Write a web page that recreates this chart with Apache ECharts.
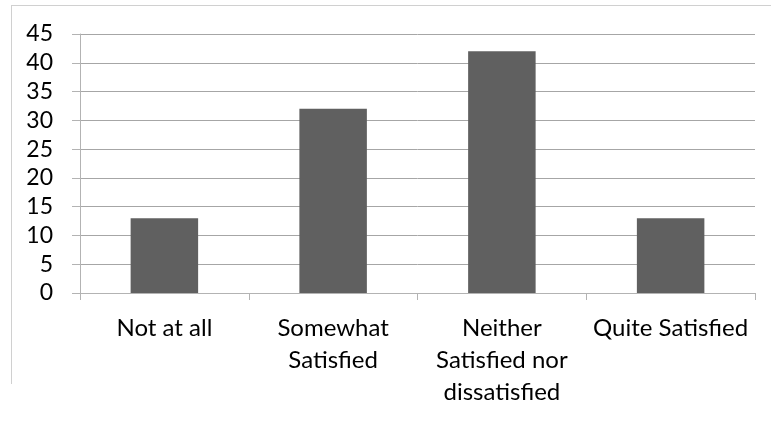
<!DOCTYPE html>
<html>
<head>
<meta charset="utf-8">
<script src="https://cdn.jsdelivr.net/npm/echarts@6/dist/echarts.min.js"></script>
<style>
  html, body { margin: 0; padding: 0; background: #ffffff; }
  #chart { width: 771px; height: 421px; }
</style>
</head>
<body>
<div id="chart"></div>
<script>
// Satisfaction survey responses
const categories = ['Not at all', 'Somewhat\nSatisfied', 'Neither\nSatisfied nor\ndissatisfied', 'Quite Satisfied'];
const counts = [13, 32, 42, 13];
const yTicks = { min: 0, max: 45, interval: 5 };

const chart = echarts.init(document.getElementById('chart'), null, { renderer: 'canvas' });
const fontFamily = 'Lato, "Open Sans", sans-serif';

chart.setOption({
  animation: false,
  backgroundColor: '#ffffff',
  grid: { left: 80, right: 16, top: 34, bottom: 128, containLabel: false },
  graphic: [
    // frame of the chart area (top and left edges)
    { type: 'line', shape: { x1: 11, y1: 5.5, x2: 771, y2: 5.5 }, style: { stroke: '#d0d0d0', lineWidth: 1 } },
    { type: 'line', shape: { x1: 11.5, y1: 5, x2: 11.5, y2: 384 }, style: { stroke: '#d0d0d0', lineWidth: 1 } }
  ],
  xAxis: {
    type: 'category',
    data: categories,
    boundaryGap: true,
    axisLine: { show: true, lineStyle: { color: '#b3b3b3', width: 1 } },
    axisTick: { show: true, alignWithLabel: false, length: 7, lineStyle: { color: '#b3b3b3' } },
    axisLabel: {
      interval: 0,
      margin: 19,
      color: '#000000',
      fontSize: 24,
      lineHeight: 32,
      fontFamily: fontFamily,
      align: 'center'
    },
    splitLine: { show: false }
  },
  yAxis: {
    type: 'value',
    min: yTicks.min,
    max: yTicks.max,
    interval: yTicks.interval,
    axisLine: { show: true, lineStyle: { color: '#b3b3b3', width: 1 } },
    axisTick: { show: true, length: 8, lineStyle: { color: '#b3b3b3' } },
    axisLabel: {
      margin: 27,
      color: '#000000',
      fontSize: 23,
      fontFamily: fontFamily
    },
    splitLine: { show: true, lineStyle: { color: '#a6a6a6', width: 1 } }
  },
  series: [{
    type: 'bar',
    data: counts,
    barCategoryGap: '60%',
    itemStyle: { color: '#606060' }
  }]
});
</script>
</body>
</html>
